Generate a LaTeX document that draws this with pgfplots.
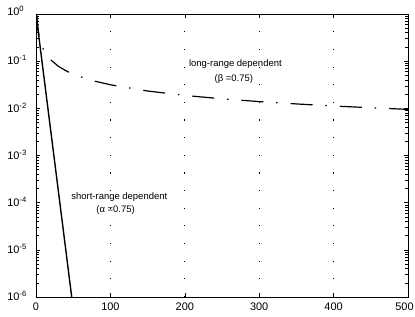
\documentclass[border=0pt]{standalone}
\usepackage{pgfplots}
\pgfplotsset{compat=1.18}
\usepackage{fontspec}
\setmainfont{Liberation Sans}
\newcommand{\ex}[1]{10\rlap{\smash{\textsuperscript{#1}}}}
\begin{document}
\begin{tikzpicture}
\begin{axis}[
  name=ax,
  scale only axis,
  width=372bp, height=283bp,
  ymode=log,
  xmin=0, xmax=500, ymin=1e-6, ymax=1,
  xtick={0,100,200,300,400,500},
  xticklabels={0,100,200,300,400,\hspace*{-7bp}500},
  ytick={1e-6,1e-5,1e-4,1e-3,1e-2,1e-1,1},
  yticklabels={\ex{-6},\ex{-5},\ex{-4},\ex{-3},\ex{-2},\ex{-1},\raisebox{5bp}{\ex{0}}},
  xtick pos=both, ytick pos=both,
  tick align=inside,
  ticklabel style={font=\fontsize{11}{12}\selectfont},
  xticklabel style={yshift=-2bp},
  yticklabel style={xshift=-13bp},
  xmajorgrids,
  major grid style={black, line width=0.9pt, dash pattern=on 1.2pt off 16.5pt},
  axis line style={line width=1pt},
  every tick/.style={black, line width=0.6pt},
  clip=true,
]
\addplot[black, line width=1.4pt] coordinates {
(0,1) (10,0.0563) (20,0.00317) (30,1.79e-4) (40,1.01e-5) (48,1.0e-6)
};
\addplot[black, line width=1.2pt, dash pattern=on 22pt off 13pt on 1.5pt off 13pt] coordinates {
(1,1) (2,0.595) (3,0.439) (5,0.299) (7,0.232) (10,0.178) (15,0.131) (20,0.106) (30,0.078) (40,0.0629) (50,0.053) (75,0.039) (100,0.0316) (150,0.0233) (200,0.0188) (250,0.0159) (300,0.0139) (350,0.0124) (400,0.0112) (450,0.0103) (500,0.0095)
};
\node[font=\fontsize{9.5}{10}\selectfont] at (axis cs:268,0.087) {long-range dependent};
\node[font=\fontsize{9.5}{10}\selectfont] at (axis cs:266,0.042) {(β =0.75)};
\node[font=\fontsize{9.5}{10}\selectfont] at (axis cs:112,1.33e-4) {short-range dependent};
\node[font=\fontsize{9.5}{10}\selectfont] at (axis cs:107,7.0e-5) {(α =0.75)};
\end{axis}
\pgfresetboundingbox
\path ([shift={(-36bp,-20bp)}]ax.south west) rectangle ([shift={(7bp,14bp)}]ax.north east);
\end{tikzpicture}
\end{document}
